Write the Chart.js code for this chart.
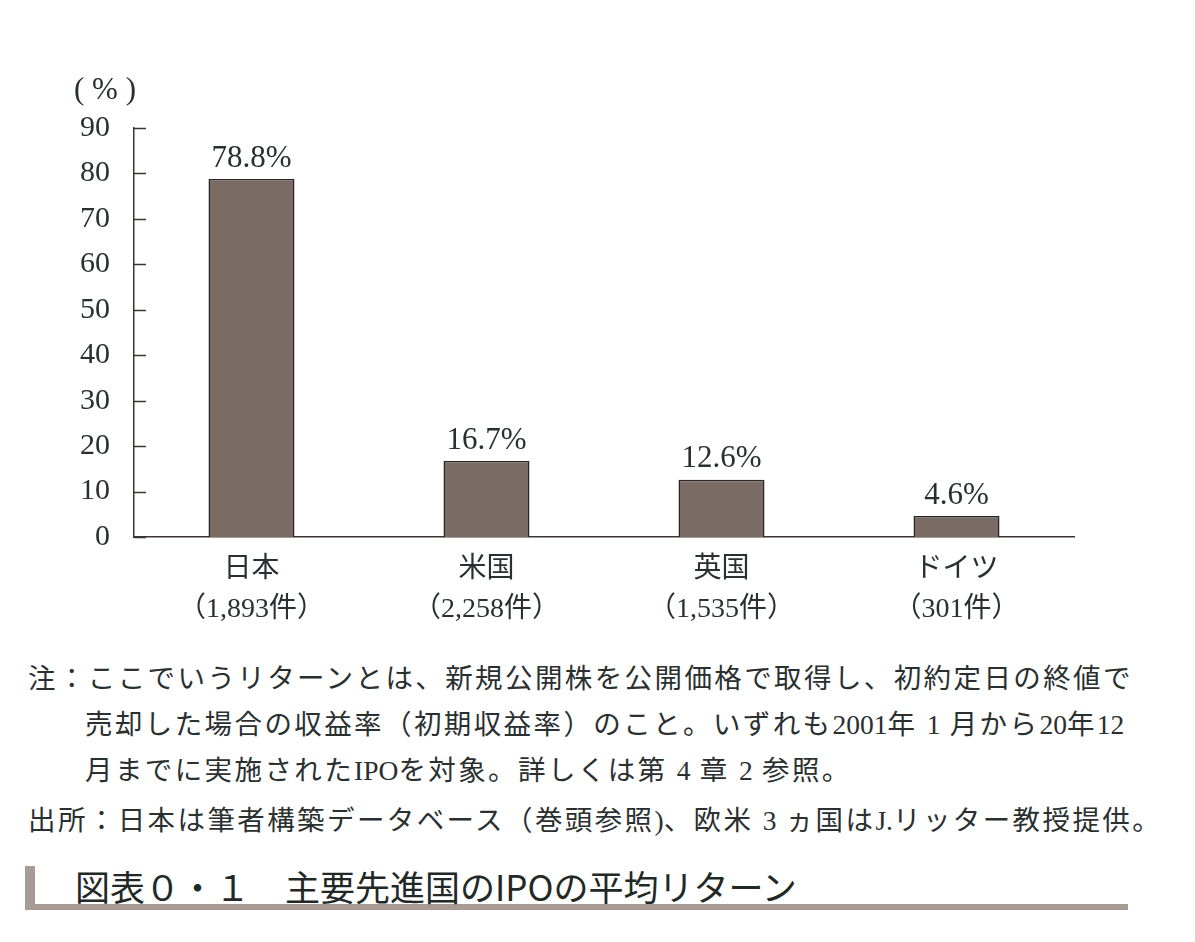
<!DOCTYPE html>
<html lang="ja">
<head>
    <meta charset="UTF-8">
    <title>主要先進国のIPOの平均リターン</title>
    <script src="https://cdn.jsdelivr.net/npm/chart.js"></script>
    <style>
        body {
            margin: 0;
            background-color: #fff;
            color: #2a2f2f;
            font-family: 'Liberation Serif', 'Noto Sans CJK JP', serif;
            width: 1195px;
            height: 942px;
            overflow: hidden;
        }

        .chart-box {
            width: 1195px;
            height: 645px;
            position: relative;
        }

        .notes {
            position: absolute;
            left: 28px;
            top: 656px;
            font-size: 27.5px;
            line-height: 46px;
            letter-spacing: 2.4px;
        }

        .notes p {
            margin: 0;
            white-space: nowrap;
        }

        .notes .lt {
            letter-spacing: 0;
        }

        .notes .indent {
            padding-left: 57px;
        }

        .notes .src {
            margin-top: 4px;
        }

        .title {
            position: absolute;
            left: 25px;
            top: 866px;
            width: 1053px;
            height: 38px;
            border-left: 10px solid #a89b95;
            border-bottom: 6px solid #a89b95;
            font-family: 'Noto Sans CJK JP', sans-serif;
            font-size: 35px;
            line-height: 40px;
            padding-left: 40px;
            color: #222826;
            white-space: nowrap;
        }
    </style>
</head>
<body>

<div class="chart-box">
    <canvas id="iporeturn"></canvas>
</div>

<div class="notes">
    <p>注：ここでいうリターンとは、新規公開株を公開価格で取得し、初約定日の終値で</p>
    <p class="indent">売却した場合の収益率（初期収益率）のこと。いずれも<span class="lt">2001</span>年 <span class="lt">1</span> 月から<span class="lt">20</span>年<span class="lt">12</span></p>
    <p class="indent">月までに実施された<span class="lt">IPO</span>を対象。詳しくは第 <span class="lt">4</span> 章 <span class="lt">2</span> 参照。</p>
    <p class="src">出所：日本は筆者構築データベース（巻頭参照<span class="lt">)</span>、欧米 <span class="lt">3</span> ヵ国は<span class="lt">J.</span>リッター教授提供。</p>
</div>

<div class="title">図表０・１　主要先進国のIPOの平均リターン</div>

<script>
    const countries = ['日本', '米国', '英国', 'ドイツ'];
    const counts = ['（1,893件）', '（2,258件）', '（1,535件）', '（301件）'];
    const returns = [78.8, 16.7, 12.6, 4.6];
    const yTicks = [0, 10, 20, 30, 40, 50, 60, 70, 80, 90];

    const serif = "'Liberation Serif', 'Noto Sans CJK JP', serif";
    const ink = '#2a2f2f';

    // ticks on the inside of the y axis, value labels, (%) unit
    const extras = {
        id: 'extras',
        afterDatasetsDraw(chart) {
            const ctx = chart.ctx;
            const y = chart.scales.y;
            ctx.save();
            ctx.strokeStyle = '#3a3533';
            ctx.lineWidth = 1.5;
            yTicks.forEach(v => {
                const py = Math.round(y.getPixelForValue(v)) + 0.5;
                ctx.beginPath();
                ctx.moveTo(y.right, py);
                ctx.lineTo(y.right + 12, py);
                ctx.stroke();
            });

            ctx.fillStyle = ink;
            ctx.font = '31px ' + serif;
            ctx.textAlign = 'center';
            ctx.textBaseline = 'bottom';
            const meta = chart.getDatasetMeta(0);
            meta.data.forEach((bar, i) => {
                ctx.fillText(returns[i].toFixed(1) + '%', bar.x, bar.y - 5);
            });

            ctx.font = '31px ' + serif;
            ctx.fillText('( % )', y.right - 29, chart.chartArea.top - 22);
            ctx.restore();
        }
    };

    new Chart(document.getElementById('iporeturn'), {
        type: 'bar',
        data: {
            labels: countries.map((c, i) => [c, counts[i]]),
            datasets: [{
                data: returns,
                backgroundColor: '#7a6c64',
                borderColor: '#2a2624',
                borderWidth: 1.5,
                barPercentage: 0.366,
                categoryPercentage: 1
            }]
        },
        options: {
            responsive: true,
            maintainAspectRatio: false,
            animation: false,
            layout: { padding: { top: 128, right: 121, left: 0, bottom: 0 } },
            plugins: {
                legend: { display: false },
                tooltip: { enabled: false }
            },
            scales: {
                x: {
                    grid: { display: false },
                    border: { color: '#3a3533', width: 1.5 },
                    ticks: {
                        color: ink,
                        font: { family: serif, size: 28, lineHeight: 1.43 },
                        padding: 5
                    },
                    afterFit(scale) { scale.height = 108; }
                },
                y: {
                    min: 0,
                    max: 90,
                    grid: { display: false },
                    border: { color: '#3a3533', width: 1.5 },
                    afterBuildTicks(scale) { scale.ticks = yTicks.map(v => ({ value: v })); },
                    ticks: {
                        color: ink,
                        font: { family: serif, size: 30 },
                        padding: 16
                    },
                    afterFit(scale) { scale.width = 134; }
                }
            }
        },
        plugins: [extras]
    });
</script>

</body>
</html>
